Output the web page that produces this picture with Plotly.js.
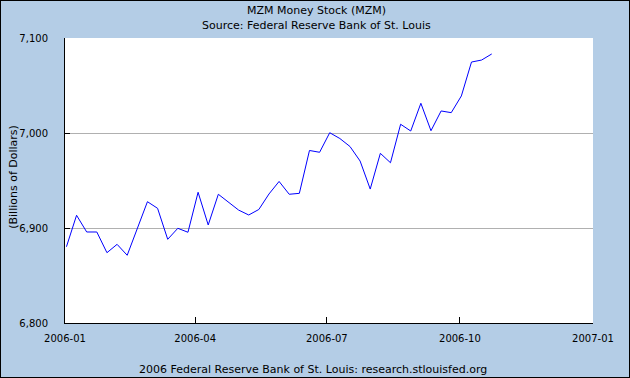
<!DOCTYPE html>
<html>
<head>
<meta charset="utf-8">
<script src="https://cdn.plot.ly/plotly-3.0.1.min.js"></script>
<style>
  html, body { margin: 0; padding: 0; background: #B4CDE6; }
  #wrap { position: relative; width: 630px; height: 378px; }
  #chart { width: 630px; height: 378px; }
  #frame { position: absolute; left: 0; top: 0; width: 630px; height: 378px; box-sizing: border-box; border: 1px solid #000; pointer-events: none; }
</style>
</head>
<body>
<div id="wrap"><div id="chart"></div><div id="frame"></div></div>
<script>
// Weekly MZM observations (Mondays), billions of dollars
var dates = [
  "2006-01-02","2006-01-09","2006-01-16","2006-01-23","2006-01-30",
  "2006-02-06","2006-02-13","2006-02-20","2006-02-27",
  "2006-03-06","2006-03-13","2006-03-20","2006-03-27",
  "2006-04-03","2006-04-10","2006-04-17","2006-04-24",
  "2006-05-01","2006-05-08","2006-05-15","2006-05-22","2006-05-29",
  "2006-06-05","2006-06-12","2006-06-19","2006-06-26",
  "2006-07-03","2006-07-10","2006-07-17","2006-07-24","2006-07-31",
  "2006-08-07","2006-08-14","2006-08-21","2006-08-28",
  "2006-09-04","2006-09-11","2006-09-18","2006-09-25",
  "2006-10-02","2006-10-09","2006-10-16","2006-10-23"
];
var mzm = [
  6880.3, 6913.4, 6895.8, 6895.8, 6874.0,
  6882.8, 6871.3, 6899.5, 6927.7,
  6920.7, 6888.1, 6899.7, 6895.5,
  6937.6, 6903.2, 6935.5, 6927.1,
  6918.9, 6913.7, 6919.5, 6935.8, 6949.0,
  6935.5, 6936.5, 6981.6, 6979.7,
  7000.3, 6994.2, 6985.8, 6970.5, 6941.0,
  6978.6, 6968.7, 7009.2, 7002.1,
  7031.3, 7002.4, 7023.2, 7021.4,
  7039.0, 7074.7, 7076.8, 7083.2
];
var xRange = ["2006-01-01", "2007-01-01"];
var yRange = [6800, 7100];
var titleLine1 = "MZM Money Stock (MZM)";
var titleLine2 = "Source: Federal Reserve Bank of St. Louis";
var yTitle = "(Billions of Dollars)";
var footer = "2006 Federal Reserve Bank of St. Louis: research.stlouisfed.org";

var font = "DejaVu Sans, Verdana, sans-serif";

var trace = {
  x: dates, y: mzm, type: "scatter", mode: "lines",
  line: { color: "#0000FF", width: 1 },
  hoverinfo: "skip"
};

function note(text, x, y, extra) {
  var a = {
    text: text, xref: "paper", yref: "paper",
    x: x, y: y, xanchor: "center", yanchor: "middle",
    showarrow: false,
    font: { family: font, size: 11, color: "#000" }
  };
  for (var k in extra) a[k] = extra[k];
  return a;
}

var layout = {
  width: 630, height: 378,
  paper_bgcolor: "#B4CDE6",
  plot_bgcolor: "#FFFFFF",
  margin: { l: 65, r: 37, t: 38, b: 55, pad: 0 },
  showlegend: false,
  font: { family: font, size: 11, color: "#000" },
  xaxis: {
    type: "date",
    range: xRange,
    tick0: "2006-01-01", dtick: "M3",
    tickformat: "%Y-%m",
    ticks: "inside", ticklen: 6, tickcolor: "#000", tickwidth: 1,
    showline: true, linecolor: "#000", linewidth: 1,
    showgrid: false, zeroline: false,
    tickfont: { family: font, size: 10, color: "#000" },
    ticklabelstandoff: 6,
    fixedrange: true
  },
  yaxis: {
    range: yRange,
    dtick: 100,
    tickformat: ",d",
    ticks: "inside", ticklen: 5, tickcolor: "#000", tickwidth: 1,
    showline: true, linecolor: "#000", linewidth: 1,
    showgrid: true, gridcolor: "#B0B0B0", gridwidth: 1,
    zeroline: false,
    tickfont: { family: font, size: 10, color: "#000" },
    ticklabelstandoff: 14,
    fixedrange: true
  },
  annotations: [
    note(titleLine1, 0.477, 1.096),
    note(titleLine2, 0.477, 1.044),
    note(yTitle, -0.099, 0.512, { textangle: -90 }),
    note(footer, 0.47, -0.163)
  ]
};

Plotly.newPlot("chart", [trace], layout, { displayModeBar: false, staticPlot: true });
</script>
</body>
</html>
